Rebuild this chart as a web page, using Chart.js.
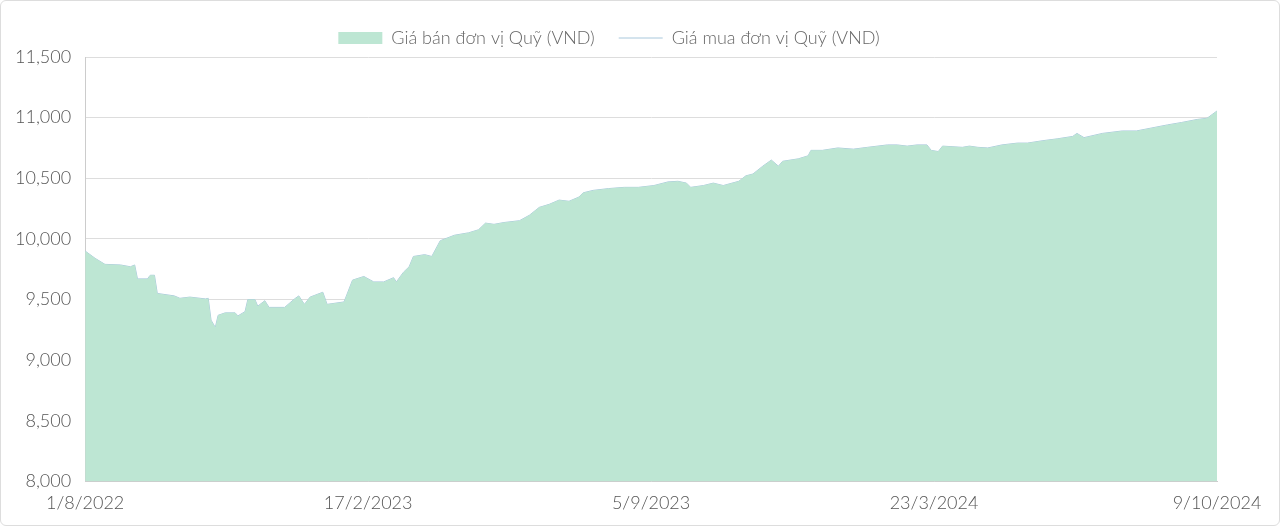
<!DOCTYPE html>
<html lang="vi">
<head>
<meta charset="UTF-8">
<title>Giá đơn vị Quỹ</title>
<script src="https://cdn.jsdelivr.net/npm/chart.js"></script>
<style>
  html, body { margin: 0; background: #fff; }
  .wrap { width: 1280px; height: 526px; box-sizing: border-box; border: 1px solid #ddd; border-radius: 6px; }
</style>
</head>
<body>
<div class="wrap"><canvas id="c" width="1278" height="524"></canvas></div>
<script>
// days since 1/8/2022
const days = [0,7,14,25,32,35,37,44,46,49,51,63,67,74,85,87,89,92,94,99,106,108,113,115,120,122,127,130,141,148,151,155,159,168,171,183,189,197,204,211,218,220,225,229,232,240,245,251,261,271,278,283,289,296,307,314,321,328,335,342,349,352,359,370,381,391,402,412,419,425,428,437,444,451,462,467,472,479,485,490,493,504,511,513,521,532,543,553,567,574,581,588,595,598,603,606,620,625,631,638,648,659,666,677,687,698,701,706,719,733,743,754,765,775,786,793,800];
const sellPrice = [9900,9840,9790,9785,9770,9785,9670,9670,9700,9700,9550,9530,9510,9520,9505,9510,9330,9270,9370,9390,9390,9365,9400,9500,9500,9445,9490,9435,9435,9505,9530,9460,9520,9560,9460,9480,9660,9690,9645,9645,9680,9645,9725,9770,9855,9870,9855,9985,10030,10050,10075,10130,10120,10135,10150,10195,10260,10285,10320,10310,10345,10380,10400,10415,10425,10425,10440,10470,10475,10460,10425,10440,10460,10440,10475,10520,10535,10600,10650,10600,10640,10660,10685,10730,10730,10750,10740,10755,10775,10775,10765,10775,10775,10730,10720,10765,10755,10765,10755,10750,10775,10790,10790,10810,10825,10845,10870,10835,10870,10890,10890,10915,10940,10960,10985,10995,11055];
const tickDays = [0,200,400,600,800];
const tickLabels = ['1/8/2022','17/2/2023','5/9/2023','23/3/2024','9/10/2024'];

const pts = days.map((d, i) => ({ x: d, y: sellPrice[i] }));

new Chart(document.getElementById('c'), {
  type: 'line',
  data: {
    datasets: [
      { label: 'Giá bán đơn vị Quỹ (VND)', data: pts, fill: 'origin', backgroundColor: '#bde6d3',
        borderColor: '#bde6d3', borderWidth: 0, pointRadius: 0, tension: 0, pointStyle: 'rect' },
      { label: 'Giá mua đơn vị Quỹ (VND)', data: pts, fill: false, backgroundColor: '#a9c8dc',
        borderColor: '#a9c8dc', borderWidth: 1, pointRadius: 0, tension: 0, pointStyle: 'line' }
    ]
  },
  options: {
    responsive: false, animation: false,
    layout: { padding: { left: 0, right: 62, top: 4, bottom: 8 } },
    plugins: {
      tooltip: { enabled: false },
      legend: { labels: { usePointStyle: true, pointStyleWidth: 44, boxHeight: 12, padding: 24,
        color: '#666', font: { family: 'Lato', size: 18, weight: 300 } } }
    },
    scales: {
      x: { type: 'linear', min: 0, max: 800,
        afterBuildTicks: ax => { ax.ticks = tickDays.map(v => ({ value: v })); },
        ticks: { callback: v => tickLabels[tickDays.indexOf(v)], color: '#555', maxRotation: 0,
          font: { family: 'Lato', size: 18, weight: 300 } },
        grid: { display: false, drawTicks: true },
        border: { color: '#ccc' } },
      y: { min: 8000, max: 11500,
        ticks: { stepSize: 500, color: '#555', padding: 14, font: { family: 'Lato', size: 18, weight: 300 },
          callback: v => v.toLocaleString('en-US') },
        grid: { color: '#ddd', drawTicks: false },
        border: { color: '#ccc' } }
    }
  }
});
</script>
</body>
</html>
